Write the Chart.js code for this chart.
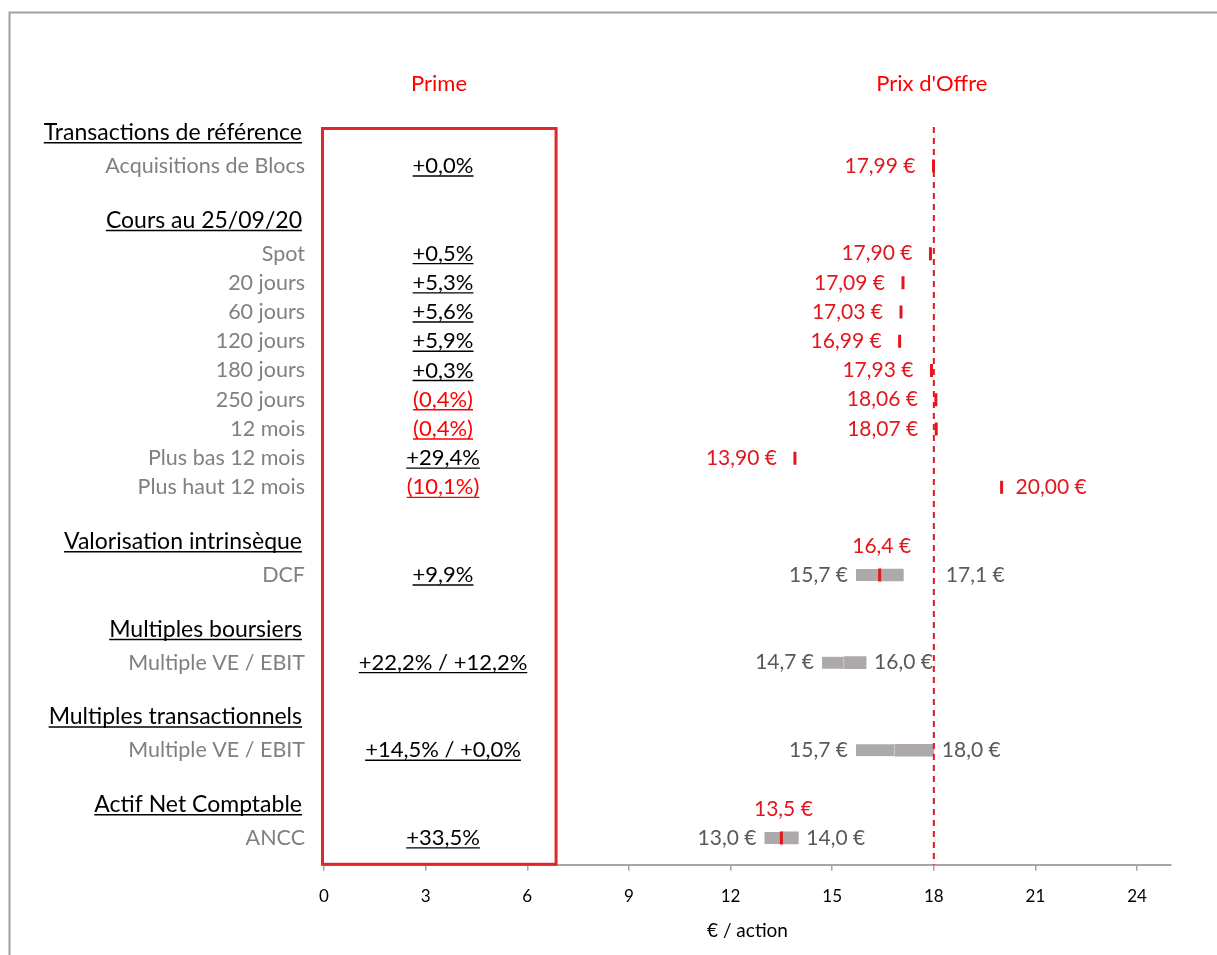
<!DOCTYPE html>
<html lang="fr">
<head>
<meta charset="utf-8">
<title>Prime et prix d'offre</title>
<script src="https://cdn.jsdelivr.net/npm/chart.js@4.4.1/dist/chart.umd.min.js"></script>
<style>
  html, body { margin: 0; padding: 0; background: #fff; }
  canvas { display: block; }
</style>
</head>
<body>
<canvas id="football" width="1217" height="955"></canvas>
<script>
// rows from top to bottom, '' = empty spacer row
const categories = [
  'Transactions de référence', 'Acquisitions de Blocs', '',
  'Cours au 25/09/20', 'Spot', '20 jours', '60 jours', '120 jours', '180 jours',
  '250 jours', '12 mois', 'Plus bas 12 mois', 'Plus haut 12 mois', '',
  'Valorisation intrinsèque', 'DCF', '',
  'Multiples boursiers', 'Multiple VE / EBIT', '',
  'Multiples transactionnels', 'Multiple VE / EBIT', '',
  'Actif Net Comptable', 'ANCC'
];
const sectionHeaders = [
  'Transactions de référence', 'Cours au 25/09/20', 'Valorisation intrinsèque',
  'Multiples boursiers', 'Multiples transactionnels', 'Actif Net Comptable'
];

// single price references
const pointRows = ['Acquisitions de Blocs', 'Spot', '20 jours', '60 jours', '120 jours',
  '180 jours', '250 jours', '12 mois', 'Plus bas 12 mois', 'Plus haut 12 mois'];
const pointValues = [17.99, 17.90, 17.09, 17.03, 16.99, 17.93, 18.06, 18.07, 13.90, 20.00];
const pointPrimes = ['+0,0%', '+0,5%', '+5,3%', '+5,6%', '+5,9%', '+0,3%', '(0,4%)', '(0,4%)', '+29,4%', '(10,1%)'];

// valuation ranges
const rangeRows = ['DCF', 'Multiple VE / EBIT', 'Multiple VE / EBIT', 'ANCC'];
const rangeLow = [15.7, 14.7, 15.7, 13.0];
const rangeSplit = [16.4, 15.35, 16.85, 13.5];
const rangeHigh = [17.1, 16.0, 18.0, 14.0];
const rangeCentral = [16.4, null, null, 13.5];
const rangePrimes = ['+9,9%', '+22,2% / +12,2%', '+14,5% / +0,0%', '+33,5%'];

const offerPrice = 18.0;
const xTicks = [0, 3, 6, 9, 12, 15, 18, 21, 24];

const RED = '#E3161E';
const PURE_RED = '#FF0000';
const BAR_GREY = '#ADA9A8';
const FONT = 'Lato, "Open Sans", sans-serif';
const PRIME_BOX_MAX = 6.85; // right edge of the premium box, in €

function rowIndexes(labels) {
  let from = 0;
  return labels.map(l => {
    const i = categories.indexOf(l, from);
    from = i + 1;
    return i;
  });
}
const pointIdx = rowIndexes(pointRows);
const rangeIdx = rowIndexes(rangeRows);

const euro = (v, d) => v.toFixed(d).replace('.', ',') + ' €';

function textLine(ctx, text, x, y, align, color, underline) {
  ctx.fillStyle = color;
  ctx.textAlign = align;
  ctx.fillText(text, x, y);
  if (!underline) return;
  const w = ctx.measureText(text).width;
  const x0 = align === 'right' ? x - w : align === 'center' ? x - w / 2 : x;
  ctx.strokeStyle = color;
  ctx.lineWidth = 1.4;
  ctx.beginPath();
  ctx.moveTo(x0, y + 10);
  ctx.lineTo(x0 + w, y + 10);
  ctx.stroke();
}

const overlay = {
  id: 'overlay',
  beforeDraw(chart) {
    const ctx = chart.ctx;
    ctx.save();
    ctx.strokeStyle = '#A0A0A0';
    ctx.lineWidth = 2;
    ctx.beginPath();
    ctx.moveTo(9.5, chart.height);
    ctx.lineTo(9.5, 12.5);
    ctx.lineTo(chart.width, 12.5);
    ctx.stroke();
    ctx.restore();
  },
  afterDatasetsDraw(chart) {
    const {ctx, chartArea: a, scales: {x, y}} = chart;
    const offerX = x.getPixelForValue(offerPrice);
    const boxRight = x.getPixelForValue(PRIME_BOX_MAX);
    const primeX = (a.left + boxRight) / 2 + 3;
    ctx.save();
    ctx.textBaseline = 'middle';

    // column titles
    ctx.font = '22px ' + FONT;
    textLine(ctx, 'Prime', primeX - 4, 84, 'center', PURE_RED, false);
    textLine(ctx, "Prix d'Offre", offerX - 2, 84, 'center', PURE_RED, false);

    // row labels
    categories.forEach((label, i) => {
      if (!label) return;
      const yy = y.getPixelForValue(i);
      if (sectionHeaders.includes(label)) {
        ctx.font = '23px ' + FONT;
        textLine(ctx, label, 302, yy - 4, 'right', '#000', true);
      } else {
        ctx.font = '21.5px ' + FONT;
        textLine(ctx, label, 305, yy, 'right', '#808080', false);
      }
    });

    // premiums
    ctx.font = '22px ' + FONT;
    const primes = [];
    pointIdx.forEach((r, i) => primes.push([r, pointPrimes[i]]));
    rangeIdx.forEach((r, i) => primes.push([r, rangePrimes[i]]));
    primes.forEach(([r, txt]) => {
      const color = txt.startsWith('(') ? PURE_RED : '#000';
      textLine(ctx, txt, primeX, y.getPixelForValue(r), 'center', color, true);
    });

    // premium box
    ctx.strokeStyle = '#E0262B';
    ctx.lineWidth = 3;
    ctx.strokeRect(a.left - 1.5, a.top + 1.5, boxRight - a.left + 1.5, a.bottom - a.top - 2);

    // offer price line
    ctx.strokeStyle = RED;
    ctx.lineWidth = 2;
    ctx.setLineDash([6, 5]);
    ctx.beginPath();
    ctx.moveTo(offerX, a.top);
    ctx.lineTo(offerX, a.bottom);
    ctx.stroke();
    ctx.setLineDash([]);

    const crossesOffer = (x0, x1) => x0 < offerX - 1 && x1 > offerX + 6;
    ctx.font = '21px ' + FONT;

    // single value labels
    pointIdx.forEach((r, i) => {
      const px = x.getPixelForValue(pointValues[i]);
      const yy = y.getPixelForValue(r);
      const txt = euro(pointValues[i], 2);
      const w = ctx.measureText(txt).width;
      if (crossesOffer(px - 18 - w, px - 18)) {
        textLine(ctx, txt, px + 14, yy, 'left', RED, false);
      } else {
        textLine(ctx, txt, px - 18, yy, 'right', RED, false);
      }
    });

    // range labels
    rangeIdx.forEach((r, i) => {
      const yy = y.getPixelForValue(r);
      const lo = x.getPixelForValue(rangeLow[i]);
      const hi = x.getPixelForValue(rangeHigh[i]);
      textLine(ctx, euro(rangeLow[i], 1), lo - 8, yy, 'right', '#595959', false);
      const hiTxt = euro(rangeHigh[i], 1);
      const w = ctx.measureText(hiTxt).width;
      const hx = crossesOffer(hi + 8, hi + 8 + w) ? offerX + 12 : hi + 8;
      textLine(ctx, hiTxt, hx, yy, 'left', '#595959', false);
      if (rangeCentral[i] !== null) {
        textLine(ctx, euro(rangeCentral[i], 1), x.getPixelForValue(rangeCentral[i]) + 2, yy - 29, 'center', RED, false);
      }
    });
    ctx.restore();
  }
};

const marks = pointIdx.map((r, i) => ({x: pointValues[i], y: r}));
rangeIdx.forEach((r, i) => {
  if (rangeCentral[i] !== null) marks.push({x: rangeCentral[i], y: r});
});

new Chart(document.getElementById('football'), {
  type: 'bar',
  data: {
    datasets: [
      {
        data: rangeIdx.map((r, i) => ({x: [rangeLow[i], rangeSplit[i]], y: r})),
        backgroundColor: BAR_GREY,
        borderColor: '#D6D3D2',
        borderWidth: {top: 0, bottom: 0, left: 0, right: 1},
        borderSkipped: false,
        barThickness: 12,
        grouped: false,
        order: 2
      },
      {
        data: rangeIdx.map((r, i) => ({x: [rangeSplit[i], rangeHigh[i]], y: r})),
        backgroundColor: BAR_GREY,
        borderWidth: 0,
        barThickness: 12,
        grouped: false,
        order: 2
      },
      {
        type: 'scatter',
        data: marks,
        showLine: false,
        pointStyle: 'line',
        pointRotation: 90,
        pointRadius: 6.5,
        pointBorderWidth: 3,
        pointBorderColor: RED,
        pointBackgroundColor: RED,
        order: 1
      }
    ]
  },
  options: {
    indexAxis: 'y',
    responsive: false,
    animation: false,
    events: [],
    layout: {padding: {left: 324, right: 46, top: 127, bottom: 0}},
    plugins: {legend: {display: false}, tooltip: {enabled: false}},
    scales: {
      x: {
        type: 'linear',
        min: 0,
        max: 25,
        afterBuildTicks: scale => { scale.ticks = xTicks.map(v => ({value: v})); },
        border: {color: '#A6A6A6', width: 2},
        grid: {drawOnChartArea: false, drawTicks: true, tickLength: 6, color: '#A6A6A6', lineWidth: 1.5},
        ticks: {color: '#000', padding: 16, font: {family: FONT, size: 17}},
        title: {display: true, text: '€ / action', color: '#000', font: {family: FONT, size: 19}, padding: {top: -4, bottom: 13}}
      },
      y: {
        type: 'linear',
        display: false,
        offset: false,
        reverse: true,
        min: -0.335,
        max: 24.92
      }
    }
  },
  plugins: [overlay]
});
</script>
</body>
</html>
